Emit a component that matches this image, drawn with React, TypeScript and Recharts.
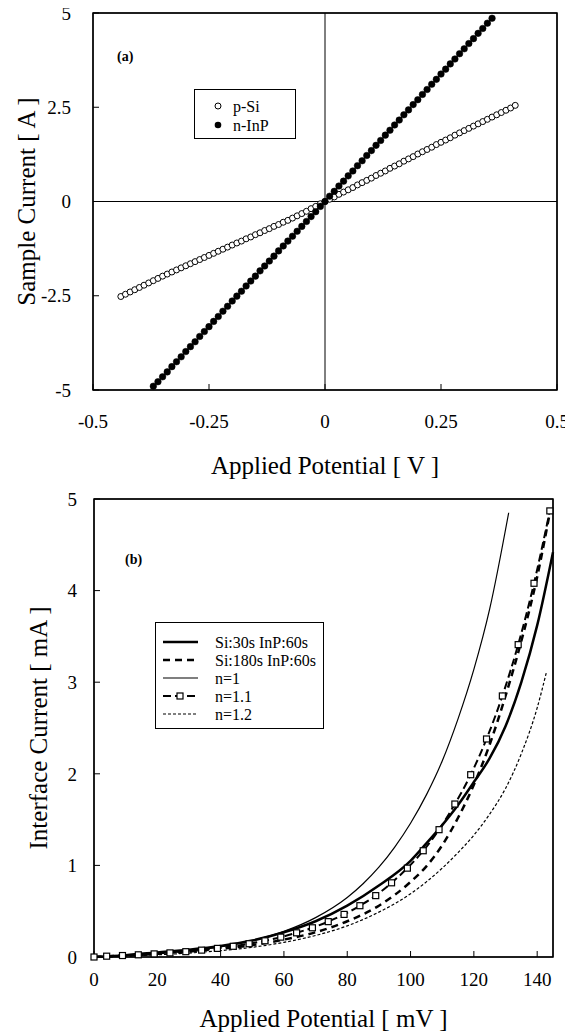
import React from 'react';
import { ComposedChart, Line, XAxis, YAxis, ReferenceLine, ReferenceArea, Legend } from 'recharts';

const FONT = '"Liberation Serif", "Times New Roman", serif';

// panel (a): sample current vs applied potential
const pSiV = [
  -0.44, -0.43, -0.42, -0.41, -0.4, -0.39, -0.38, -0.37, -0.36, -0.35, -0.34, -0.33, -0.32, -0.31, -0.3,
  -0.29, -0.28, -0.27, -0.26, -0.25, -0.24, -0.23, -0.22, -0.21, -0.2, -0.19, -0.18, -0.17, -0.16, -0.15,
  -0.14, -0.13, -0.12, -0.11, -0.1, -0.09, -0.08, -0.07, -0.06, -0.05, -0.04, -0.03, -0.02, -0.01, 0,
  0.01, 0.02, 0.03, 0.04, 0.05, 0.06, 0.07, 0.08, 0.09, 0.1, 0.11, 0.12, 0.13, 0.14, 0.15,
  0.16, 0.17, 0.18, 0.19, 0.2, 0.21, 0.22, 0.23, 0.24, 0.25, 0.26, 0.27, 0.28, 0.29, 0.3,
  0.31, 0.32, 0.33, 0.34, 0.35, 0.36, 0.37, 0.38, 0.39, 0.4, 0.41,
];
const pSiI = [
  -2.52, -2.46, -2.4, -2.34, -2.28, -2.22, -2.16, -2.1, -2.04, -1.98, -1.925, -1.87, -1.815, -1.76, -1.705,
  -1.65, -1.595, -1.54, -1.485, -1.43, -1.375, -1.32, -1.265, -1.21, -1.155, -1.1, -1.05, -0.99, -0.94, -0.88,
  -0.83, -0.77, -0.72, -0.66, -0.61, -0.55, -0.5, -0.44, -0.38, -0.32, -0.26, -0.19, -0.13, -0.06, 0,
  0.06, 0.12, 0.19, 0.25, 0.31, 0.37, 0.44, 0.5, 0.56, 0.62, 0.69, 0.75, 0.81, 0.88, 0.94,
  1.0, 1.07, 1.13, 1.19, 1.26, 1.32, 1.38, 1.44, 1.51, 1.57, 1.63, 1.69, 1.76, 1.82, 1.88,
  1.94, 2.0, 2.06, 2.12, 2.18, 2.24, 2.3, 2.36, 2.42, 2.48, 2.55,
];
const nInPV = [
  -0.37, -0.36, -0.35, -0.34, -0.33, -0.32, -0.31, -0.3, -0.29, -0.28, -0.27, -0.26, -0.25, -0.24, -0.23,
  -0.22, -0.21, -0.2, -0.19, -0.18, -0.17, -0.16, -0.15, -0.14, -0.13, -0.12, -0.11, -0.1, -0.09, -0.08,
  -0.07, -0.06, -0.05, -0.04, -0.03, -0.02, -0.01, 0, 0.01, 0.02, 0.03, 0.04, 0.05, 0.06, 0.07,
  0.08, 0.09, 0.1, 0.11, 0.12, 0.13, 0.14, 0.15, 0.16, 0.17, 0.18, 0.19, 0.2, 0.21, 0.22,
  0.23, 0.24, 0.25, 0.26, 0.27, 0.28, 0.29, 0.3, 0.31, 0.32, 0.33, 0.34, 0.35, 0.36,
];
const nInPI = [
  -4.9, -4.78, -4.65, -4.52, -4.38, -4.25, -4.12, -3.98, -3.85, -3.72, -3.58, -3.45, -3.32, -3.18, -3.05,
  -2.91, -2.78, -2.64, -2.51, -2.38, -2.24, -2.11, -1.98, -1.84, -1.71, -1.58, -1.45, -1.31, -1.18, -1.05,
  -0.92, -0.79, -0.66, -0.53, -0.4, -0.27, -0.13, 0, 0.14, 0.27, 0.41, 0.54, 0.68, 0.81, 0.95,
  1.08, 1.22, 1.35, 1.49, 1.62, 1.76, 1.89, 2.03, 2.16, 2.3, 2.43, 2.57, 2.7, 2.84, 2.97,
  3.11, 3.24, 3.38, 3.51, 3.65, 3.78, 3.92, 4.05, 4.19, 4.32, 4.46, 4.59, 4.73, 4.86,
];
const aTicksX = [-0.5, -0.25, 0, 0.25, 0.5];
const aTicksY = [-5, -2.5, 0, 2.5, 5];

// panel (b): interface current vs applied potential (mV)
const si30V = [0, 10, 20, 30, 40, 50, 60, 70, 80, 90, 100, 105, 110, 115, 120, 125, 130, 135, 140, 145];
const si30I = [0, 0.02, 0.05, 0.08, 0.12, 0.18, 0.27, 0.39, 0.56, 0.78, 1.05, 1.24, 1.44, 1.66, 1.91, 2.17, 2.52, 3.0, 3.62, 4.42];
const si180V = [0, 10, 20, 30, 40, 50, 60, 70, 80, 90, 100, 105, 110, 115, 120, 125, 130, 135, 140, 144];
const si180I = [0, 0.015, 0.035, 0.06, 0.09, 0.13, 0.19, 0.27, 0.39, 0.56, 0.82, 0.99, 1.22, 1.52, 1.88, 2.32, 2.85, 3.45, 4.15, 4.85];
const n1V = [0, 10, 20, 30, 40, 50, 60, 70, 80, 85, 90, 95, 100, 105, 110, 115, 120, 125, 131];
const n1I = [0, 0.014, 0.035, 0.065, 0.11, 0.18, 0.28, 0.43, 0.65, 0.8, 0.98, 1.2, 1.46, 1.77, 2.14, 2.6, 3.14, 3.8, 4.85];
const n11V = [0, 4, 9, 14, 19, 24, 29, 34, 39, 44, 49, 54, 59, 64, 69, 74, 79, 84, 89, 94, 99, 104, 109, 114, 119, 124, 129, 134, 139, 144];
const n11I = [0, 0.009, 0.016, 0.024, 0.034, 0.045, 0.058, 0.075, 0.094, 0.117, 0.145, 0.177, 0.217, 0.264, 0.319, 0.386, 0.465, 0.56, 0.67, 0.81, 0.97, 1.16, 1.39, 1.67, 1.99, 2.38, 2.85, 3.41, 4.08, 4.87];
const n12V = [0, 10, 20, 30, 40, 50, 60, 70, 80, 90, 100, 105, 110, 115, 120, 125, 130, 135, 140, 143];
const n12I = [0, 0.01, 0.024, 0.043, 0.07, 0.106, 0.16, 0.235, 0.34, 0.49, 0.69, 0.82, 0.97, 1.14, 1.33, 1.56, 1.84, 2.22, 2.72, 3.12];
const bTicksX = [0, 20, 40, 60, 80, 100, 120, 140];
const bTicksY = [0, 1, 2, 3, 4, 5];

const pts = (xs: number[], ys: number[]) => xs.map((x, i) => ({ x, y: ys[i] }));

const tickStyle = (size: number) => ({ fill: '#000', fontSize: size, fontFamily: FONT });
const axisLn = { stroke: '#000', strokeWidth: 1 };
const tickLn = { stroke: '#000', strokeWidth: 1 };

const xTitle = (text: string, dy: number, size: number) => (props: any) => {
  const vb = props.viewBox;
  return (
    <text x={vb.x + vb.width / 2} y={vb.y + dy} textAnchor="middle" dominantBaseline="central"
      fontSize={size} fontFamily={FONT} fill="#000">{text}</text>
  );
};

const yTitle = (text: string, cx: number, size: number) => (props: any) => {
  const vb = props.viewBox;
  const cy = vb.y + vb.height / 2;
  return (
    <text x={cx} y={cy} transform={`rotate(-90 ${cx} ${cy})`} textAnchor="middle" dominantBaseline="central"
      fontSize={size} fontFamily={FONT} fill="#000">{text}</text>
  );
};

const LegendA = () => (
  <svg width={102} height={50} style={{ display: 'block' }}>
    <rect x={0.5} y={0.5} width={101} height={49} fill="#fff" stroke="#000" />
    <circle cx={24} cy={17} r={3} fill="#fff" stroke="#000" />
    <circle cx={24} cy={36} r={3.3} fill="#000" />
    <text x={39} y={17} dominantBaseline="central" fontSize={16} fontFamily={FONT}>p-Si</text>
    <text x={39} y={36} dominantBaseline="central" fontSize={16} fontFamily={FONT}>n-InP</text>
  </svg>
);

const legendB = [
  { name: 'Si:30s InP:60s', w: 2.5, dash: undefined as string | undefined, sq: false },
  { name: 'Si:180s InP:60s', w: 2.5, dash: '7 5', sq: false },
  { name: 'n=1', w: 1.2, dash: undefined, sq: false },
  { name: 'n=1.1', w: 2, dash: '8 4', sq: true },
  { name: 'n=1.2', w: 1.2, dash: '3 2', sq: false },
];

const LegendB = () => (
  <svg width={169} height={107} style={{ display: 'block' }}>
    <rect x={0.5} y={0.5} width={168} height={106} fill="#fff" stroke="#000" />
    {legendB.map((r, i) => {
      const y = 20 + i * 18;
      return (
        <g key={r.name}>
          <line x1={8} x2={43} y1={y} y2={y} stroke="#000" strokeWidth={r.w} strokeDasharray={r.dash} />
          {r.sq && <rect x={22} y={y - 3} width={6} height={6} fill="#fff" stroke="#000" strokeWidth={1.2} />}
          <text x={60} y={y} dominantBaseline="central" fontSize={16} fontFamily={FONT}>{r.name}</text>
        </g>
      );
    })}
  </svg>
);

const squareDot = (p: any) => (
  <rect key={`sq-${p.index}`} x={p.cx - 3} y={p.cy - 3} width={6} height={6} fill="#fff" stroke="#000" strokeWidth={1.2} />
);

export default function App() {
  return (
    <div style={{ position: 'relative', width: 573, height: 1034, margin: '-8px 0 0 -8px', background: '#fff' }}>
      <div style={{ position: 'absolute', left: 0, top: 0 }}>
        <ComposedChart width={573} height={480} margin={{ top: 12, right: 15, bottom: 0, left: 0 }}>
          <XAxis xAxisId="b" dataKey="x" type="number" domain={[-0.5, 0.5]} ticks={aTicksX} height={90}
            tickSize={-6} tickMargin={31} axisLine={axisLn} tickLine={tickLn} tick={tickStyle(19)}
            label={{ content: xTitle('Applied Potential [ V ]', 75, 25) }} />
          <XAxis xAxisId="t" orientation="top" dataKey="x" type="number" domain={[-0.5, 0.5]} ticks={aTicksX}
            height={1} tickSize={-6} axisLine={axisLn} tickLine={tickLn} tick={false} />
          <YAxis yAxisId="l" type="number" domain={[-5, 5]} ticks={aTicksY} width={93}
            tickSize={-6} tickMargin={28} axisLine={axisLn} tickLine={tickLn} tick={tickStyle(19)}
            label={{ content: yTitle('Sample Current [ A ]', 26, 25) }} />
          <YAxis yAxisId="r" orientation="right" type="number" domain={[-5, 5]} ticks={aTicksY} width={1}
            tickSize={-6} axisLine={axisLn} tickLine={tickLn} tick={false} />
          <ReferenceArea xAxisId="b" yAxisId="l" x1={-0.5} x2={0.5} y1={-5} y2={5} fill="none" fillOpacity={0}
            stroke="#000" strokeWidth={1.5} />
          <ReferenceLine xAxisId="b" yAxisId="l" x={0} stroke="#000" strokeWidth={1} />
          <ReferenceLine xAxisId="b" yAxisId="l" y={0} stroke="#000" strokeWidth={1} />
          <Line xAxisId="b" yAxisId="l" data={pts(pSiV, pSiI)} dataKey="y" type="linear" stroke="#000" strokeWidth={1}
            dot={{ r: 3, fill: '#fff', stroke: '#000', strokeWidth: 1 }} isAnimationActive={false} />
          <Line xAxisId="b" yAxisId="l" data={pts(nInPV, nInPI)} dataKey="y" type="linear" stroke="#000" strokeWidth={1}
            dot={{ r: 3.3, fill: '#000', stroke: '#000', strokeWidth: 0.5 }} isAnimationActive={false} />
          <Legend layout="vertical" align="center" verticalAlign="middle" content={() => <LegendA />}
            wrapperStyle={{ left: 194, top: 89, width: 102, height: 50 }} />
        </ComposedChart>
        <div style={{ position: 'absolute', left: 117, top: 49, fontFamily: FONT, fontWeight: 'bold', fontSize: 14 }}>(a)</div>
      </div>

      <div style={{ position: 'absolute', left: 0, top: 480 }}>
        <ComposedChart width={573} height={554} margin={{ top: 18, right: 19, bottom: 0, left: 0 }}>
          <XAxis xAxisId="b" dataKey="x" type="number" domain={[0, 145]} ticks={bTicksX} height={77}
            tickSize={-6} tickMargin={22} axisLine={axisLn} tickLine={tickLn} tick={tickStyle(19)}
            label={{ content: xTitle('Applied Potential [ mV ]', 61, 25) }} />
          <XAxis xAxisId="t" orientation="top" dataKey="x" type="number" domain={[0, 145]} ticks={bTicksX}
            height={1} tickSize={-6} axisLine={axisLn} tickLine={tickLn} tick={false} />
          <YAxis yAxisId="l" type="number" domain={[0, 5]} ticks={bTicksY} width={94}
            tickSize={-6} tickMargin={23} axisLine={axisLn} tickLine={tickLn} tick={tickStyle(19)}
            label={{ content: yTitle('Interface Current [ mA ]', 38, 25) }} />
          <YAxis yAxisId="r" orientation="right" type="number" domain={[0, 5]} ticks={bTicksY} width={1}
            tickSize={-6} axisLine={axisLn} tickLine={tickLn} tick={false} />
          <ReferenceArea xAxisId="b" yAxisId="l" x1={0} x2={145} y1={0} y2={5} fill="none" fillOpacity={0}
            stroke="#000" strokeWidth={1.5} />
          <Line xAxisId="b" yAxisId="l" data={pts(n12V, n12I)} dataKey="y" type="monotone" stroke="#000"
            strokeWidth={1.2} strokeDasharray="3 2" dot={false} isAnimationActive={false} />
          <Line xAxisId="b" yAxisId="l" data={pts(n1V, n1I)} dataKey="y" type="monotone" stroke="#000"
            strokeWidth={1.2} dot={false} isAnimationActive={false} />
          <Line xAxisId="b" yAxisId="l" data={pts(si180V, si180I)} dataKey="y" type="monotone" stroke="#000"
            strokeWidth={2.5} strokeDasharray="7 5" dot={false} isAnimationActive={false} />
          <Line xAxisId="b" yAxisId="l" data={pts(n11V, n11I)} dataKey="y" type="monotone" stroke="#000"
            strokeWidth={2} strokeDasharray="8 4" dot={squareDot} isAnimationActive={false} />
          <Line xAxisId="b" yAxisId="l" data={pts(si30V, si30I)} dataKey="y" type="monotone" stroke="#000"
            strokeWidth={2.5} dot={false} isAnimationActive={false} />
          <Legend layout="vertical" align="center" verticalAlign="middle" content={() => <LegendB />}
            wrapperStyle={{ left: 155, top: 142, width: 169, height: 107 }} />
        </ComposedChart>
        <div style={{ position: 'absolute', left: 125, top: 72, fontFamily: FONT, fontWeight: 'bold', fontSize: 14 }}>(b)</div>
      </div>
    </div>
  );
}
